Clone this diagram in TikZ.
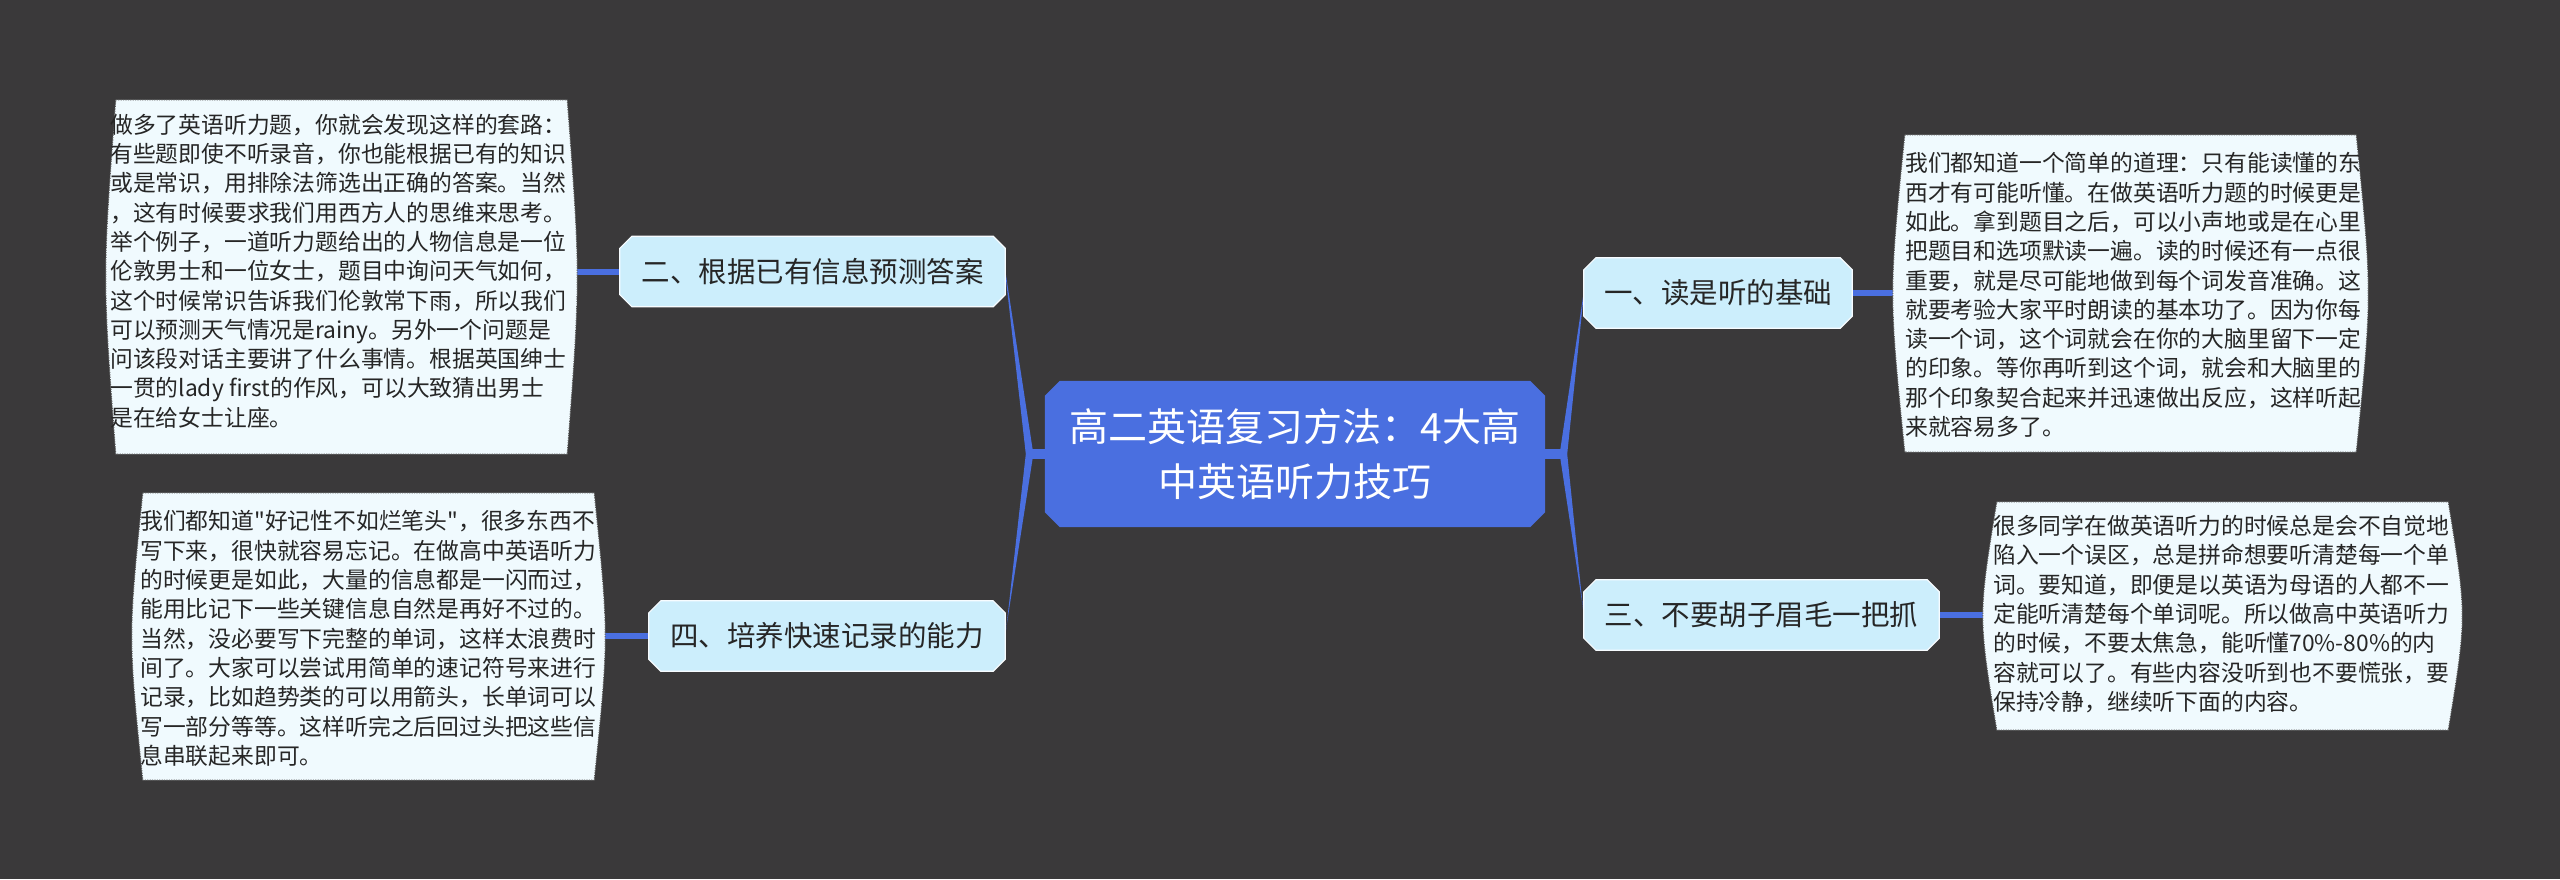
\documentclass[tikz,border=0pt]{standalone}
\usepackage{fontspec}
\setmainfont{Noto Sans CJK SC}[Ligatures=TeXOff]
\usetikzlibrary{calc}
\definecolor{bgc}{RGB}{58,57,58}
\definecolor{mainblue}{RGB}{74,111,224}
\definecolor{branchfill}{RGB}{204,238,252}
\definecolor{leaffill}{RGB}{240,250,254}
\definecolor{txt}{RGB}{38,38,38}
\definecolor{leafborder}{RGB}{90,90,90}
\pgfdeclarelayer{bglayer}
\pgfdeclarelayer{connlayer}
\pgfdeclarelayer{shapelayer}
\pgfsetlayers{bglayer,connlayer,shapelayer,main}

\newcommand{\chamferpath}[3]{%
  \path[#3] ([xshift=#2]#1.north west) -- ([xshift=-#2]#1.north east) -- ([yshift=-#2]#1.north east) -- ([yshift=#2]#1.south east) -- ([xshift=-#2]#1.south east) -- ([xshift=#2]#1.south west) -- ([yshift=#2]#1.south west) -- ([yshift=-#2]#1.north west) -- cycle;}
\newcommand{\barrelpath}[3]{%
  \path[#3] ([xshift=#2]#1.north west) -- ([xshift=-#2]#1.north east) .. controls ([xshift={#2/3}]#1.east) .. ([xshift=-#2]#1.south east) -- ([xshift=#2]#1.south west) .. controls ([xshift={-#2/3}]#1.west) .. ([xshift=#2]#1.north west) -- cycle;}

\tikzset{
  centralnode/.style={inner sep=0pt, minimum width=500pt, minimum height=146pt, text=white, align=center, font=\fontsize{39}{55}\selectfont},
  branchnode/.style={inner sep=0pt, minimum height=70pt, text=txt, font=\fontsize{28.5}{34}\selectfont},
  leafbox/.style={inner sep=0pt},
  leaftext/.style={inner sep=0pt, anchor=west, align=left, text=txt, font=\fontsize{22.8}{29.3}\selectfont},
  leafconn/.style={draw=mainblue, line width=6pt},
  taper/.style={fill=mainblue},
  branchshape/.style={fill=branchfill, draw=white!85!branchfill, line width=1.2pt},
  leafshape/.style={fill=leaffill, draw=leafborder, line width=1pt, dash pattern=on 1.2pt off 1.2pt},
}

\begin{document}
\begin{tikzpicture}[x=1pt,y=-1pt]
\useasboundingbox (0,0) rectangle (2560,879);
\begin{pgfonlayer}{bglayer}
  \fill[bgc] (0,0) rectangle (2560,879);
\end{pgfonlayer}

% central
\node[centralnode] (c) at (1295,454) {高二英语复习方法：4大高\\中英语听力技巧};

% branches
\node[branchnode, minimum width=385pt] (b2) at (812.5,271.5) {二、根据已有信息预测答案};
\node[branchnode, minimum width=356pt] (b4) at (827,636) {四、培养快速记录的能力};
\node[branchnode, minimum width=268pt] (b1) at (1718,293) {一、读是听的基础};
\node[branchnode, minimum width=355pt] (b3) at (1761.5,615) {三、不要胡子眉毛一把抓};

% leaf boxes
\node[leafbox, minimum width=471pt, minimum height=354pt] (l2) at (341.5,277) {};
\node[leafbox, minimum width=473pt, minimum height=287pt] (l4) at (368.5,636.5) {};
\node[leafbox, minimum width=475pt, minimum height=317pt] (l1) at (2130.5,293.5) {};
\node[leafbox, minimum width=479pt, minimum height=228pt] (l3) at (2222.5,616) {};

% leaf texts
\node[leaftext] (l2t) at (110,271) {做多了英语听力题，你就会发现这样的套路：\\
有些题即使不听录音，你也能根据已有的知识\\
或是常识，用排除法筛选出正确的答案。当然\\
，这有时候要求我们用西方人的思维来思考。\\
举个例子，一道听力题给出的人物信息是一位\\
伦敦男士和一位女士，题目中询问天气如何，\\
这个时候常识告诉我们伦敦常下雨，所以我们\\
可以预测天气情况是rainy。另外一个问题是\\
问该段对话主要讲了什么事情。根据英国绅士\\
一贯的lady first的作风，可以大致猜出男士\\
是在给女士让座。};

\node[leaftext] (l4t) at (140,638.5) {我们都知道"好记性不如烂笔头"，很多东西不\\
写下来，很快就容易忘记。在做高中英语听力\\
的时候更是如此，大量的信息都是一闪而过，\\
能用比记下一些关键信息自然是再好不过的。\\
当然，没必要写下完整的单词，这样太浪费时\\
间了。大家可以尝试用简单的速记符号来进行\\
记录，比如趋势类的可以用箭头，长单词可以\\
写一部分等等。这样听完之后回过头把这些信\\
息串联起来即可。};

\node[leaftext] (l1t) at (1905,295) {我们都知道一个简单的道理：只有能读懂的东\\
西才有可能听懂。在做英语听力题的时候更是\\
如此。拿到题目之后，可以小声地或是在心里\\
把题目和选项默读一遍。读的时候还有一点很\\
重要，就是尽可能地做到每个词发音准确。这\\
就要考验大家平时朗读的基本功了。因为你每\\
读一个词，这个词就会在你的大脑里留下一定\\
的印象。等你再听到这个词，就会和大脑里的\\
那个印象契合起来并迅速做出反应，这样听起\\
来就容易多了。};

\node[leaftext] (l3t) at (1993,614) {很多同学在做英语听力的时候总是会不自觉地\\
陷入一个误区，总是拼命想要听清楚每一个单\\
词。要知道，即便是以英语为母语的人都不一\\
定能听清楚每个单词呢。所以做高中英语听力\\
的时候，不要太焦急，能听懂70\%-80\%的内\\
容就可以了。有些内容没听到也不要慌张，要\\
保持冷静，继续听下面的内容。};

\coordinate (hl) at ($(c.west)+(-15,0)$);
\coordinate (hr) at ($(c.east)+(18,0)$);

\begin{pgfonlayer}{connlayer}
  \fill[taper] ([yshift=5pt]c.west) -- ([yshift=5pt]hl) -- ([yshift=-5pt]hl) -- ([yshift=-5pt]c.west) -- cycle;
  \fill[taper] ([yshift=5pt]c.east) -- ([yshift=5pt]hr) -- ([yshift=-5pt]hr) -- ([yshift=-5pt]c.east) -- cycle;
  \fill[taper] ([xshift=4pt,yshift=-3pt]hl) -- ([yshift=1.5pt]b2.east) -- ([yshift=-1.5pt]b2.east) -- ([xshift=-4pt]hl) -- cycle;
  \fill[taper] ([xshift=4pt,yshift=3pt]hl) -- ([yshift=1.5pt]b4.east) -- ([yshift=-1.5pt]b4.east) -- ([xshift=-4pt]hl) -- cycle;
  \fill[taper] ([xshift=-4pt,yshift=-3pt]hr) -- ([yshift=1.5pt]b1.west) -- ([yshift=-1.5pt]b1.west) -- ([xshift=4pt]hr) -- cycle;
  \fill[taper] ([xshift=-4pt,yshift=3pt]hr) -- ([yshift=1.5pt]b3.west) -- ([yshift=-1.5pt]b3.west) -- ([xshift=4pt]hr) -- cycle;
  \draw[leafconn] (b2.west) -- (b2.west -| l2.east);
  \draw[leafconn] (b4.west) -- (b4.west -| l4.east);
  \draw[leafconn] (b1.east) -- (b1.east -| l1.west);
  \draw[leafconn] (b3.east) -- (b3.east -| l3.west);
\end{pgfonlayer}

\begin{pgfonlayer}{shapelayer}
  \chamferpath{c}{15pt}{fill=mainblue}
  \chamferpath{b2}{12pt}{branchshape}
  \chamferpath{b4}{12pt}{branchshape}
  \chamferpath{b1}{12pt}{branchshape}
  \chamferpath{b3}{12pt}{branchshape}
  \barrelpath{l2}{10pt}{leafshape}
  \barrelpath{l4}{11pt}{leafshape}
  \barrelpath{l1}{12pt}{leafshape}
  \barrelpath{l3}{14pt}{leafshape}
\end{pgfonlayer}
\end{tikzpicture}
\end{document}
